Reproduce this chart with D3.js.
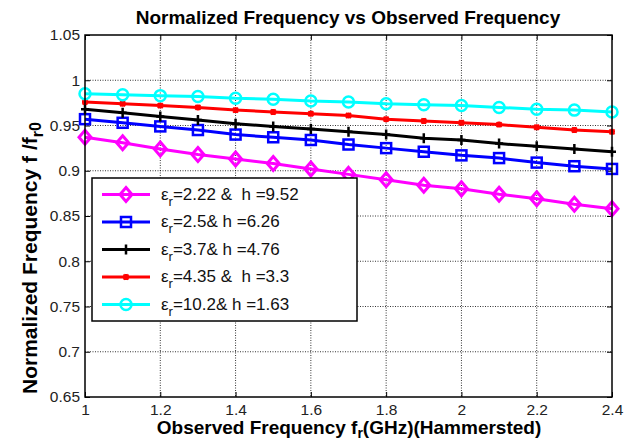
<!DOCTYPE html>
<html>
<head>
<meta charset="utf-8">
<script src="https://cdn.jsdelivr.net/npm/d3@7"></script>
<style>
  body { margin: 0; background: #fff; }
  text { font-family: "Liberation Sans", Arial, sans-serif; white-space: pre; }
</style>
</head>
<body>
<svg id="chart" width="634" height="443"></svg>
<script>
// Data
const freqs = [1, 1.1, 1.2, 1.3, 1.4, 1.5, 1.6, 1.7, 1.8, 1.9, 2, 2.1, 2.2, 2.3, 2.4];
const series222 = [0.937, 0.931, 0.924, 0.918, 0.913, 0.908, 0.902, 0.896, 0.890, 0.884, 0.880, 0.874, 0.869, 0.863, 0.858];
const series25 = [0.957, 0.953, 0.949, 0.945, 0.940, 0.937, 0.934, 0.929, 0.925, 0.921, 0.917, 0.914, 0.909, 0.905, 0.902];
const series37 = [0.968, 0.964, 0.960, 0.956, 0.952, 0.949, 0.946, 0.943, 0.940, 0.936, 0.934, 0.930, 0.927, 0.924, 0.921];
const series435 = [0.976, 0.974, 0.972, 0.970, 0.967, 0.965, 0.963, 0.961, 0.957, 0.955, 0.953, 0.951, 0.948, 0.945, 0.943];
const series102 = [0.985, 0.984, 0.983, 0.982, 0.980, 0.979, 0.977, 0.976, 0.974, 0.973, 0.972, 0.970, 0.968, 0.967, 0.965];
const legendLabels = ["=2.22 &  h =9.52", "=2.5& h =6.26", "=3.7& h =4.76", "=4.35 &  h =3.3", "=10.2& h =1.63"];
const xTicks = [1, 1.2, 1.4, 1.6, 1.8, 2, 2.2, 2.4];
const yTicks = [0.65, 0.7, 0.75, 0.8, 0.85, 0.9, 0.95, 1, 1.05];

const lines = [
    { values: series222, color: "#ff00ff", marker: "diamond" },
    { values: series25, color: "#0000ff", marker: "square" },
    { values: series37, color: "#000000", marker: "plus" },
    { values: series435, color: "#ff0000", marker: "star" },
    { values: series102, color: "#00ffff", marker: "circle" }
];

const svg = d3.select("#chart");
const plotL = 85, plotR = 612, plotT = 35, plotB = 397;

const x = d3.scaleLinear().domain([1, 2.4]).range([plotL, plotR]);
const y = d3.scaleLinear().domain([0.65, 1.05]).range([plotB, plotT]);

// Grid
svg.append("g").selectAll("line").data(xTicks.slice(1, -1)).join("line")
    .attr("x1", d => x(d)).attr("x2", d => x(d))
    .attr("y1", plotT).attr("y2", plotB)
    .attr("stroke", "#000").attr("stroke-width", 0.8).attr("stroke-dasharray", "1,1.5");
svg.append("g").selectAll("line").data(yTicks.slice(1, -1)).join("line")
    .attr("x1", plotL).attr("x2", plotR)
    .attr("y1", d => y(d)).attr("y2", d => y(d))
    .attr("stroke", "#000").attr("stroke-width", 0.8).attr("stroke-dasharray", "1,1.5");

// Axes (ticks inside, on all four sides)
const tickLen = 5;
svg.append("g").attr("transform", `translate(0,${plotB})`)
    .call(d3.axisBottom(x).tickValues(xTicks).tickSize(-tickLen).tickPadding(7).tickFormat(d3.format("")))
    .call(g => g.select(".domain").remove());
svg.append("g").attr("transform", `translate(0,${plotT})`)
    .call(d3.axisTop(x).tickValues(xTicks).tickSize(-tickLen).tickFormat(""))
    .call(g => g.select(".domain").remove());
svg.append("g").attr("transform", `translate(${plotL},0)`)
    .call(d3.axisLeft(y).tickValues(yTicks).tickSize(-tickLen).tickPadding(5).tickFormat(d3.format("")))
    .call(g => g.select(".domain").remove());
svg.append("g").attr("transform", `translate(${plotR},0)`)
    .call(d3.axisRight(y).tickValues(yTicks).tickSize(-tickLen).tickFormat(""))
    .call(g => g.select(".domain").remove());

svg.selectAll(".tick line").attr("stroke", "#000");
svg.selectAll(".tick text")
    .attr("font-size", 15.5).attr("fill", "#222")
    .attr("font-family", "Liberation Sans, Arial, sans-serif");

// Lines and markers
const line = d3.line().x((d, i) => x(freqs[i])).y(d => y(d));

function drawMarker(g, type, color) {
    if (type === "diamond") {
        g.append("path").attr("d", "M0,-7L6,0L0,7L-6,0Z")
            .attr("fill", "none").attr("stroke", color).attr("stroke-width", 3);
    } else if (type === "square") {
        g.append("rect").attr("x", -5).attr("y", -5).attr("width", 10).attr("height", 10)
            .attr("fill", "none").attr("stroke", color).attr("stroke-width", 2.5);
    } else if (type === "circle") {
        g.append("circle").attr("r", 5.5)
            .attr("fill", "none").attr("stroke", color).attr("stroke-width", 2.5);
    } else if (type === "plus") {
        g.append("path").attr("d", "M-4,0H4M0,-5V5")
            .attr("stroke", color).attr("stroke-width", 2.5);
    } else if (type === "star") {
        g.append("path").attr("d", "M-3,0H3M0,-3V3M-2.5,-2.5L2.5,2.5M-2.5,2.5L2.5,-2.5")
            .attr("stroke", color).attr("stroke-width", 2);
    }
}

lines.forEach(s => {
    svg.append("path").datum(s.values)
        .attr("fill", "none").attr("stroke", s.color).attr("stroke-width", 3)
        .attr("d", line);
    s.values.forEach((v, i) => {
        const g = svg.append("g").attr("transform", `translate(${x(freqs[i])},${y(v)})`);
        drawMarker(g, s.marker, s.color);
    });
});

// Axis box
svg.append("rect").attr("x", plotL).attr("y", plotT)
    .attr("width", plotR - plotL).attr("height", plotB - plotT)
    .attr("fill", "none").attr("stroke", "#000").attr("stroke-width", 1.5);

// Legend
const legend = svg.append("g");
legend.append("rect").attr("x", 92).attr("y", 178).attr("width", 265).attr("height", 143)
    .attr("fill", "#fff").attr("stroke", "#000").attr("stroke-width", 1.5);
lines.forEach((s, i) => {
    const ly = 194.5 + i * 27.5;
    legend.append("line").attr("x1", 102).attr("x2", 150).attr("y1", ly).attr("y2", ly)
        .attr("stroke", s.color).attr("stroke-width", 3);
    drawMarker(legend.append("g").attr("transform", `translate(126,${ly})`), s.marker, s.color);
    const t = legend.append("text").attr("x", 161).attr("y", ly + 5)
        .attr("font-size", 17).attr("fill", "#111");
    t.append("tspan").text("ε");
    t.append("tspan").attr("font-size", 13).attr("dy", 6).text("r");
    t.append("tspan").attr("dy", -6).text(legendLabels[i]);
});

// Title and axis labels
svg.append("text").attr("x", 348).attr("y", 24).attr("text-anchor", "middle")
    .attr("font-size", 19).attr("font-weight", "bold")
    .text("Normalized Frequency vs Observed Frequency");

const xl = svg.append("text").attr("x", 349).attr("y", 434).attr("text-anchor", "middle")
    .attr("font-size", 19).attr("font-weight", "bold");
xl.append("tspan").text("Observed Frequency f");
xl.append("tspan").attr("font-size", 14).attr("dy", 4).text("r");
xl.append("tspan").attr("dy", -4).text("(GHz)(Hammersted)");

const yl = svg.append("text").attr("transform", "translate(37,394) rotate(-90)")
    .attr("font-size", 21).attr("font-weight", "bold");
yl.append("tspan").text("Normalized Frequency f /f");
yl.append("tspan").attr("font-size", 16).attr("dy", 6).text("r");
yl.append("tspan").attr("font-size", 16).attr("dy", -2).text("0");
</script>
</body>
</html>
